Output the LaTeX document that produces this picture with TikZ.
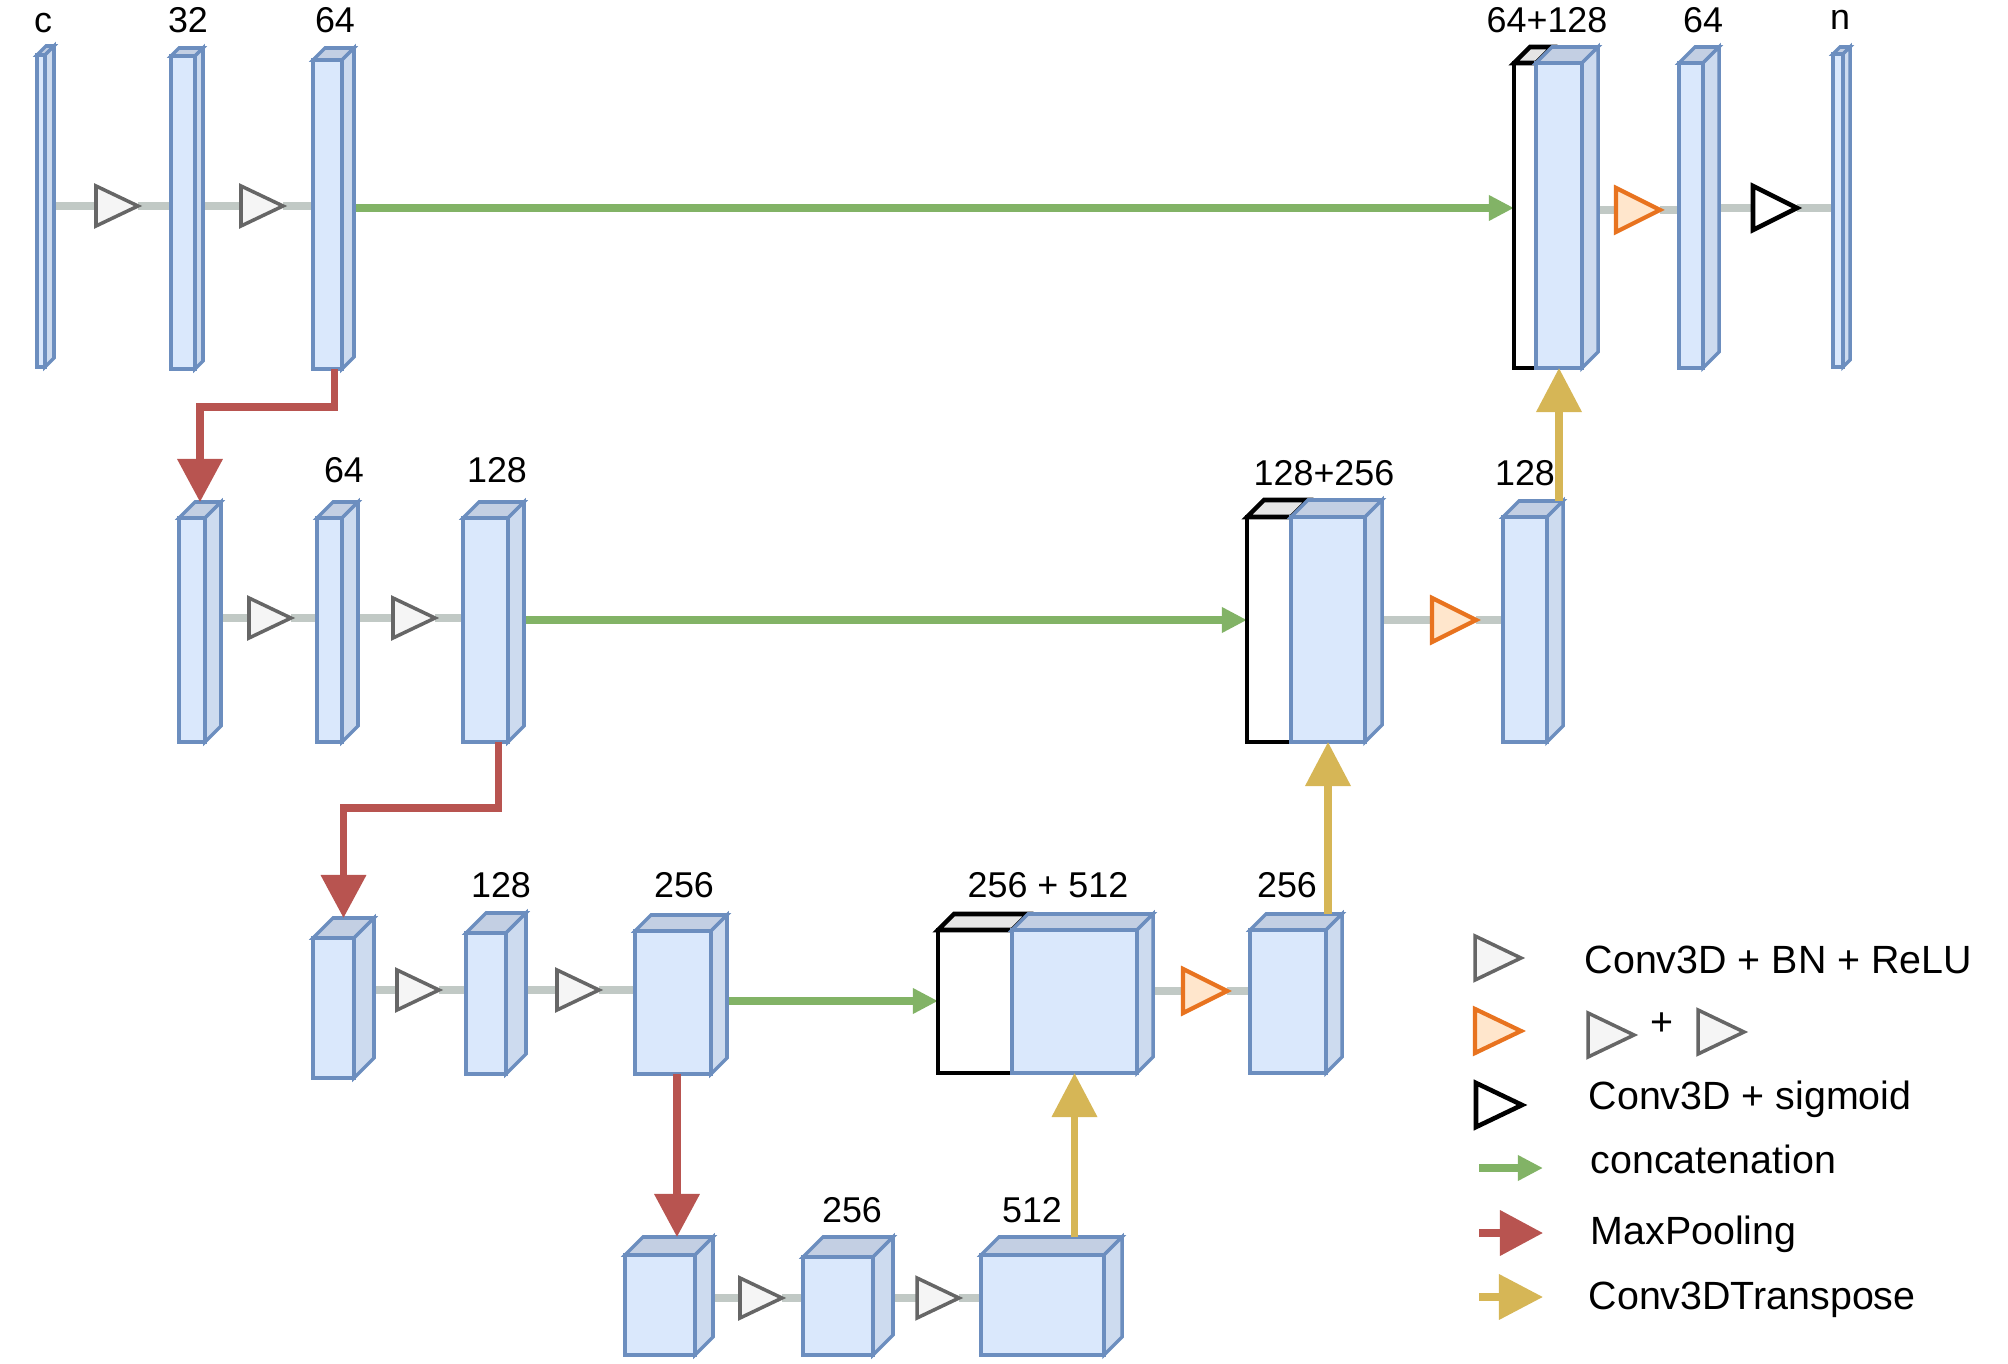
\documentclass[tikz,border=0pt]{standalone}
\usepackage{fontspec}
\setmainfont{Liberation Sans}
\usetikzlibrary{shapes.geometric}
\usetikzlibrary{arrows.meta}
\usetikzlibrary{calc}

\definecolor{fmline}{HTML}{6C8EBF}
\definecolor{fmfill}{HTML}{DAE8FC}
\definecolor{fmside}{HTML}{CDDBEF}
\definecolor{fmtop}{HTML}{C3CFE3}
\definecolor{flowgray}{HTML}{C1C9C5}
\definecolor{convline}{HTML}{666666}
\definecolor{convfill}{HTML}{F5F5F5}
\definecolor{dblline}{HTML}{E8731F}
\definecolor{dblfill}{HTML}{FFE6CC}
\definecolor{catgreen}{HTML}{82B366}
\definecolor{poolred}{HTML}{B85450}
\definecolor{upyellow}{HTML}{D6B656}

\pgfdeclarelayer{background}
\pgfsetlayers{background,main}

\tikzset{
	fmface/.style={rectangle, draw=fmline, fill=fmfill, line width=1pt, inner sep=0pt, outer sep=0pt},
	fmtopface/.style={draw=fmline, fill=fmtop, line width=1pt},
	fmsideface/.style={draw=fmline, fill=fmside, line width=1pt},
	catface/.style={rectangle, draw=black, fill=white, line width=1.3pt, inner sep=0pt, outer sep=0pt},
	cattopface/.style={draw=black, fill=black!10, line width=1.3pt},
	tri/.style={isosceles triangle, isosceles triangle stretches, inner sep=0pt, outer sep=0pt,
		minimum width=0.40cm, minimum height=0.42cm, anchor=west},
	conv/.style={tri, draw=convline, fill=convfill, line width=1pt},
	convx2/.style={tri, draw=dblline, fill=dblfill, line width=1.2pt, minimum width=0.44cm, minimum height=0.44cm},
	convsig/.style={tri, draw=black, fill=white, line width=1.3pt, minimum width=0.44cm, minimum height=0.44cm},
	legtri/.style={minimum width=0.44cm, minimum height=0.46cm},
	flow/.style={draw=flowgray, line width=2.1pt},
	cat/.style={draw=catgreen, line width=2.1pt, -{Triangle[length=2.5mm,width=2.4mm]}},
	pool/.style={draw=poolred, line width=2pt, -{Triangle[length=4.3mm,width=4.4mm]}},
	up/.style={draw=upyellow, line width=2pt, -{Triangle[length=4.4mm,width=4.4mm]}},
	lab/.style={font=\fontsize{10.2}{12}\selectfont, inner sep=0pt, anchor=base},
	legtxt/.style={font=\fontsize{11.2}{13}\selectfont, inner sep=0pt, anchor=base west}
}

% feature map: name, x, top, width, height, depth (in px)
\newcommand{\fmap}[6]{%
	\node[fmface, minimum width=#4*0.01cm, minimum height=#5*0.01cm, anchor=north west] (#1) at (#2,#3) {};
	\draw[fmtopface] (#1.north west) -- ++(#6,-#6) -- ++(#4,0) -- (#1.north east) -- cycle;
	\draw[fmsideface] (#1.north east) -- ++(#6,-#6) -- ++(0,#5) -- (#1.south east) -- cycle;
	\coordinate (#1t) at ($(#1.north)+(#6/2,-#6)$);
}
% concatenated map: name, x, top, copied width, own width, height, depth
\newcommand{\catmap}[7]{%
	\node[catface, minimum width=#4*0.01cm, minimum height=#6*0.01cm, anchor=north west] (#1k) at (#2,#3) {};
	\draw[cattopface] (#1k.north west) -- ++(#7,-#7) -- ++(#4,0) -- (#1k.north east) -- cycle;
	\fmap{#1}{#2+#4}{#3}{#5}{#6}{#7}
}

\begin{document}
\begin{tikzpicture}[x=0.01cm, y=-0.01cm]
	\useasboundingbox (0,0) rectangle (2008,1364);

	% level 1
	\fmap{c1}{37}{55}{8}{312}{9}
	\fmap{f32}{171}{56}{24}{313}{8}
	\fmap{f64}{313}{60}{29}{309}{12}
	\catmap{cat1}{1514}{63}{22}{46}{305}{16}
	\fmap{u64}{1679}{63}{24}{305}{16}
	\fmap{out}{1833}{54}{10}{313}{7}

	% level 2
	\fmap{d1}{179}{518}{26}{224}{16}
	\fmap{d2}{317}{518}{25}{224}{16}
	\fmap{d3}{463}{518}{45}{224}{16}
	\catmap{cat2}{1247}{517}{44}{74}{225}{17}
	\fmap{u2}{1503}{517}{44}{225}{16}

	% level 3
	\fmap{e1}{313}{938}{41}{140}{20}
	\fmap{e2}{466}{933}{40}{141}{20}
	\fmap{e3}{635}{931}{76}{143}{16}
	\catmap{cat3}{938}{930}{74}{125}{143}{16}
	\fmap{u3}{1250}{930}{76}{143}{16}

	% bottom
	\fmap{b1}{625}{1255}{70}{100}{18}
	\fmap{b2}{803}{1257}{70}{98}{20}
	\fmap{b3}{981}{1255}{123}{100}{18}

	% labels
	\node[lab] (lc) at (43,33) {c};
	\node[lab] (l32) at (188,33) {32};
	\node[lab] (l64a) at (335,33) {64};
	\node[lab] (lcat1) at (1547,33) {64+128};
	\node[lab] (l64b) at (1703,33) {64};
	\node[lab] (ln) at (1840,30) {n};
	\node[lab] (ld2) at (344,483) {64};
	\node[lab] (ld3) at (497,483) {128};
	\node[lab] (lcat2) at (1324,486) {128+256};
	\node[lab] (lu2) at (1525,486) {128};
	\node[lab] (le2) at (501,897) {128};
	\node[lab] (le3) at (684,897) {256};
	\node[lab] (lcat3) at (1048,897) {256 + 512};
	\node[lab] (lu3) at (1287,897) {256};
	\node[lab] (lb2) at (852,1222) {256};
	\node[lab] (lb3) at (1032,1222) {512};

	% operations
	\node[conv] (t1) at (96,206) {};
	\node[conv] (t2) at (241,206) {};
	\node[convx2] (t3) at (1616,210) {};
	\node[convsig] (t4) at (1753,208) {};
	\node[conv] (t5) at (249,618) {};
	\node[conv] (t6) at (393,618) {};
	\node[convx2] (t7) at (1432,620) {};
	\node[conv] (t8) at (397,990) {};
	\node[conv] (t9) at (557,990) {};
	\node[convx2] (t10) at (1183,991) {};
	\node[conv] (t11) at (740,1298) {};
	\node[conv] (t12) at (917,1298) {};

	\coordinate (g1) at (0,208);
	\coordinate (g2) at (0,620);
	\coordinate (g3) at (0,1001);

	\begin{pgfonlayer}{background}
		\draw[flow] (c1.east |- t1.west) -- (t1.west) (t1.east) -- (f32.west |- t1.east);
		\draw[flow] (f32.east |- t2.west) -- (t2.west) (t2.east) -- (f64.west |- t2.east);
		\draw[flow] (cat1.east |- t3.west) -- (t3.west) (t3.east) -- (u64.west |- t3.east);
		\draw[flow] (u64.east |- t4.west) -- (t4.west) (t4.east) -- (out.west |- t4.east);
		\draw[flow] (d1.east |- t5.west) -- (t5.west) (t5.east) -- (d2.west |- t5.east);
		\draw[flow] (d2.east |- t6.west) -- (t6.west) (t6.east) -- (d3.west |- t6.east);
		\draw[flow] (cat2.east |- t7.west) -- (t7.west) (t7.east) -- (u2.west |- t7.east);
		\draw[flow] (e1.east |- t8.west) -- (t8.west) (t8.east) -- (e2.west |- t8.east);
		\draw[flow] (e2.east |- t9.west) -- (t9.west) (t9.east) -- (e3.west |- t9.east);
		\draw[flow] (cat3.east |- t10.west) -- (t10.west) (t10.east) -- (u3.west |- t10.east);
		\draw[flow] (b1.east |- t11.west) -- (t11.west) (t11.east) -- (b2.west |- t11.east);
		\draw[flow] (b2.east |- t12.west) -- (t12.west) (t12.east) -- (b3.west |- t12.east);

		\draw[cat] (f64.east |- g1) -- (cat1k.west |- g1);
		\draw[cat] (d3.east |- g2) -- (cat2k.west |- g2);
		\draw[cat] (e3.east |- g3) -- (cat3k.west |- g3);
	\end{pgfonlayer}

	% pooling
	\draw[pool] ($(f64.south)+(7,0)$) -- ++(0,38) -| (d1t);
	\draw[pool] ($(d3.south)+(13,0)$) -- ++(0,66) -| (e1t);
	\coordinate (p3) at ($(e3.south)+(4,0)$);
	\draw[pool] (p3) -- (p3 |- b1t);

	% transposed conv
	\draw[up] (cat1.south |- u2t) -- (cat1.south);
	\draw[up] (cat2.south |- u3t) -- (cat2.south);
	\draw[up] (cat3.south |- b3t) -- (cat3.south);

	% legend
	\node[conv, legtri] (lg1) at (1475,958) {};
	\node[convx2, legtri] (lg2) at (1475,1031) {};
	\node[conv, legtri] (lg2a) at (1588,1035) {};
	\node[font=\fontsize{11.2}{13}\selectfont, inner sep=0pt] (lgplus) at (1662,1024) {+};
	\node[conv, legtri] (lg2b) at (1698,1032) {};
	\node[convsig, legtri] (lg3) at (1476,1105) {};
	\coordinate (lg4a) at (1479,1168);
	\coordinate (lg4b) at (1543,1168);
	\coordinate (lg5a) at (1479,1233);
	\coordinate (lg5b) at (1543,1233);
	\coordinate (lg6a) at (1479,1297);
	\coordinate (lg6b) at (1543,1297);
	\draw[cat] (lg4a) -- (lg4b);
	\draw[pool] (lg5a) -- (lg5b);
	\draw[up] (lg6a) -- (lg6b);

	\node[legtxt] (lt1) at (1584,973) {Conv3D + BN + ReLU};
	\node[legtxt] (lt3) at (1588,1109) {Conv3D + sigmoid};
	\node[legtxt] (lt4) at (1590,1173) {concatenation};
	\node[legtxt] (lt5) at (1590,1244) {MaxPooling};
	\node[legtxt] (lt6) at (1588,1309) {Conv3DTranspose};
\end{tikzpicture}
\end{document}
